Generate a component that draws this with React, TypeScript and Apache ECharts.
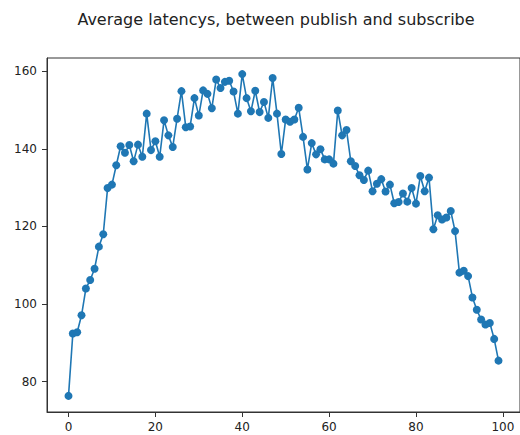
import React, { useEffect, useRef } from "react";
import * as echarts from "echarts";

const TITLE = "Average latencys, between publish and subscribe";
const X_TICKS = [0, 20, 40, 60, 80, 100];
const Y_TICKS = [80, 100, 120, 140, 160];
const LATENCY = [
  76.3, 92.4, 92.7, 97.1, 104.0, 106.2, 109.1, 114.8, 118.0, 129.9,
  130.8, 135.8, 140.7, 139.0, 141.0, 136.8, 141.1, 138.0, 149.1, 139.7,
  142.0, 138.0, 147.4, 143.5, 140.5, 147.8, 154.9, 145.6, 145.8, 153.1,
  148.6, 155.1, 154.2, 150.5, 157.9, 155.7, 157.3, 157.6, 154.8, 149.1,
  159.3, 153.1, 149.7, 155.0, 149.5, 152.1, 148.0, 158.3, 149.1, 138.7,
  147.6, 147.0, 147.6, 150.6, 143.1, 134.7, 141.5, 138.6, 139.9, 137.3,
  137.3, 136.2, 149.9, 143.5, 144.9, 136.8, 135.6, 133.2, 132.0, 134.4,
  129.1, 131.0, 132.2, 129.0, 130.8, 126.0, 126.3, 128.5, 126.4, 129.9,
  125.9, 133.0, 129.1, 132.6, 119.3, 122.9, 121.8, 122.3, 124.0, 118.8,
  108.1, 108.6, 107.2, 101.7, 98.5, 96.0, 94.7, 95.1, 91.0, 85.4,
];

export default function App() {
  const ref = useRef<HTMLDivElement>(null);
  useEffect(() => {
    if (!ref.current) return;
    const chart = echarts.init(ref.current, null, { renderer: "svg" });
    const n = LATENCY.length;
    const xPad = (n - 1) * 0.05;
    const yMin = Math.min(...LATENCY);
    const yMax = Math.max(...LATENCY);
    const yPad = (yMax - yMin) * 0.05;
    const font = "DejaVu Sans";
    chart.setOption({
      animation: false,
      backgroundColor: "#ffffff",
      title: {
        text: TITLE,
        left: 271,
        top: 6,
        textAlign: "center",
        textStyle: { fontFamily: font, fontSize: 16, fontWeight: "normal", color: "#222" },
      },
      grid: {
        left: 47,
        right: -1,
        top: 58,
        bottom: 23,
        show: true,
        borderColor: "#333",
        borderWidth: 1,
        backgroundColor: "transparent",
      },
      xAxis: {
        type: "value",
        min: -xPad,
        max: n - 1 + xPad,
        splitLine: { show: false },
        axisLine: { show: true, onZero: false, lineStyle: { color: "#333", width: 1 } },
        axisTick: { show: true, customValues: X_TICKS, length: 5, lineStyle: { color: "#333" } },
        axisLabel: {
          customValues: X_TICKS,
          fontFamily: font,
          fontSize: 12,
          color: "#222",
          margin: 9,
        },
      },
      yAxis: {
        type: "value",
        min: yMin - yPad,
        max: yMax + yPad,
        splitLine: { show: false },
        axisLine: { show: true, onZero: false, lineStyle: { color: "#333", width: 1 } },
        axisTick: { show: true, customValues: Y_TICKS, length: 5, lineStyle: { color: "#333" } },
        axisLabel: {
          customValues: Y_TICKS,
          fontFamily: font,
          fontSize: 12,
          color: "#222",
          margin: 10,
        },
      },
      series: [
        {
          type: "line",
          data: LATENCY.map((v, i) => [i, v]),
          symbol: "circle",
          symbolSize: 8,
          showAllSymbol: true,
          lineStyle: { color: "#1f77b4", width: 1.6 },
          itemStyle: { color: "#1f77b4" },
        },
      ],
    });
    return () => chart.dispose();
  }, []);
  return (
    <div
      ref={ref}
      style={{ position: "absolute", left: 0, top: 0, width: 520, height: 435 }}
    />
  );
}
